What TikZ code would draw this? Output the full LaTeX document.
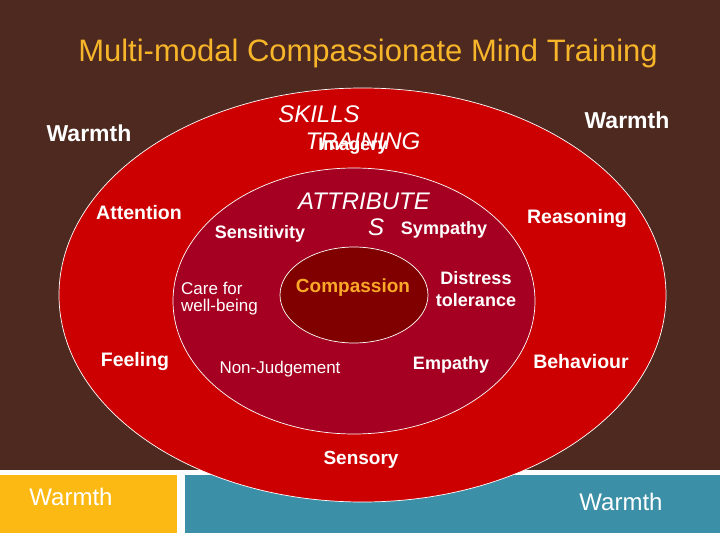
\documentclass[tikz,border=0pt]{standalone}
\usepackage{fontspec}
\setmainfont{Liberation Sans}
\usepackage{xcolor}
\definecolor{BgBrown}{RGB}{77,41,32}
\definecolor{RingOuter}{RGB}{204,0,0}
\definecolor{RingMiddle}{RGB}{165,0,33}
\definecolor{RingInner}{RGB}{128,0,0}
\definecolor{TitleGold}{RGB}{247,181,41}
\definecolor{CoreOrange}{RGB}{250,168,40}
\definecolor{BoxYellow}{RGB}{253,185,19}
\definecolor{BoxTeal}{RGB}{59,143,167}

\begin{document}
\begin{tikzpicture}[
			x = 1pt, y = -1pt,
			Ring/.style={draw=white, line width=0.7pt},
			Txt/.style={text=white, inner sep=0pt, anchor=base},
			BoldTxt/.style={Txt, font=\bfseries\fontsize{#1}{#1}\selectfont},
			PlainTxt/.style={Txt, font=\fontsize{#1}{#1}\selectfont},
			SlantTxt/.style={Txt, font=\itshape\fontsize{#1}{#1}\selectfont},
			]
			\useasboundingbox (0,0) rectangle (720,540);
			\fill [white] (0,0) rectangle (720,540);
			\fill [BgBrown] (0,0) rectangle (720,470);
			\fill [BoxYellow] (0,475) rectangle (177,533);
			\fill [BoxTeal] (185,475) rectangle (720,533);
			% the three rings
			\filldraw [Ring, fill=RingOuter] (362.5,295) ellipse [x radius=303.5pt, y radius=207pt];
			\filldraw [Ring, fill=RingMiddle] (354,301) ellipse [x radius=181pt, y radius=133pt];
			\filldraw [Ring, fill=RingInner] (354,295) ellipse [x radius=74pt, y radius=48pt];
			% title
			\node [PlainTxt=31, text=TitleGold] (title) at (368,62) {Multi-modal Compassionate Mind Training};
			% outer ring
			\node [BoldTxt=23] (warmthL) at (89,142) {Warmth};
			\node [BoldTxt=23] (warmthR) at (627,129) {Warmth};
			\node [SlantTxt=24] (skills) at (319,123) {SKILLS};
			\node [SlantTxt=24] (training) at (363,150) {TRAINING};
			\node [BoldTxt=18] (imagery) at (353,151) {Imagery};
			\node [BoldTxt=19.5] (attention) at (139,219) {Attention};
			\node [BoldTxt=19.5] (reasoning) at (577,224) {Reasoning};
			\node [BoldTxt=19.5] (feeling) at (135,366) {Feeling};
			\node [BoldTxt=19.5] (behaviour) at (581,368) {Behaviour};
			\node [BoldTxt=19] (sensory) at (361,464) {Sensory};
			% middle ring
			\node [SlantTxt=24] (attribute) at (364,210) {ATTRIBUTE};
			\node [SlantTxt=24] (attributeS) at (376,236) {S};
			\node [BoldTxt=18] (sensitivity) at (260,239) {Sensitivity};
			\node [BoldTxt=18] (sympathy) at (444,234) {Sympathy};
			\node [PlainTxt=17, align=left, anchor=west] (care) at (181,299) {Care for\\well-being};
			\node [Txt, font=\bfseries\fontsize{18}{22}\selectfont, align=center, anchor=center] (distress) at (476,289.5) {Distress\\tolerance};
			\node [PlainTxt=17] (nonjudge) at (280,373) {Non-Judgement};
			\node [BoldTxt=18] (empathy) at (451,369) {Empathy};
			% core
			\node [BoldTxt=19, text=CoreOrange] (compassion) at (353,292) {Compassion};
			% bottom bar
			\node [PlainTxt=24] (warmthY) at (71,505) {Warmth};
			\node [PlainTxt=24] (warmthT) at (621,510) {Warmth};
		\end{tikzpicture}
\end{document}
